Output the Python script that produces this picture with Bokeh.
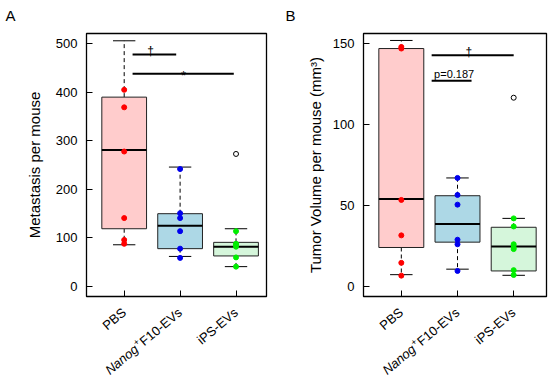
import math
from bokeh.plotting import figure
from bokeh.models import Label, FixedTicker, Range1d, ColumnDataSource
from bokeh.layouts import row, column
from bokeh.core.properties import value
from bokeh.embed import file_html
from bokeh.resources import INLINE

# ---------------- data ----------------
groups = ["PBS", "Nanog+F10-EVs", "iPS-EVs"]
nanog_parts = ["Nanog", "+", "F10-EVs"]
xpos = [1, 2, 3]
fills = ["#ffcccc", "#add8e6", "#d5f6db"]
pt_colors = ["#ff0000", "#0000ee", "#00ee00"]

# Panel A: metastasis per mouse
a_lo = [86, 62, 41]
a_q1 = [119, 78, 63]
a_med = [281, 125, 82]
a_q3 = [390, 150, 91]
a_hi = [506, 246, 119]
a_out_x = [3]
a_out_y = [273]
a_pts_pbs = [405, 369, 278, 141, 96, 88]
a_pts_nanog = [242, 151, 141, 114, 78, 59]
a_pts_ips = [114, 88, 86, 82, 60, 41]
a_sig_x0 = [1.15, 1.15]
a_sig_x1 = [1.93, 2.96]
a_sig_y = [478, 438]
a_sig_tx = [1.47, 2.06]
a_sig_text = ["\u2020", "*"]
a_yticks = [0, 100, 200, 300, 400, 500]

# Panel B: tumor volume per mouse
b_lo = [7.2, 10.6, 6.8]
b_q1 = [24, 27.3, 9.5]
b_med = [54, 38.5, 24.6]
b_q3 = [147, 56, 36.5]
b_hi = [152, 67, 42]
b_out_x = [3]
b_out_y = [116.6]
b_pts_pbs = [148, 147, 53.4, 31.5, 14.5, 6.6]
b_pts_nanog = [67, 56.5, 50.5, 28.8, 26, 9.5]
b_pts_ips = [42, 37, 26, 24, 23, 10, 7]
b_sig_x0 = [1.54, 1.54]
b_sig_x1 = [3.0, 2.25]
b_sig_y = [142.9, 127.1]
b_sig_tx = [2.2, 1.94]
b_sig_text = ["\u2020", "p=0.187"]
b_yticks = [0, 50, 100, 150]

FONT = "Liberation Sans"
TOTAL_H = 382
TOP, BOT = 33, 8
MAIN_H = 304
FH = MAIN_H - TOP - BOT
LAB_H = TOTAL_H - MAIN_H
ANG = 40.0  # label rotation in degrees


def panel(letter, width, bl, br, xr, yr, lo, q1, med, q3, hi, pts, out_x, out_y,
          sx0, sx1, sy, stx, stext, text_kind, yticks, ylabel, lab_standoff):
    p = figure(width=width, height=MAIN_H, x_range=Range1d(*xr), y_range=Range1d(*yr),
               output_backend="svg", toolbar_location=None,
               min_border_left=bl, min_border_right=br,
               min_border_top=TOP, min_border_bottom=BOT)
    p.background_fill_color = "white"
    p.border_fill_color = "white"
    p.outline_line_color = "black"
    p.outline_line_width = 1.3
    p.xgrid.visible = False
    p.ygrid.visible = False
    fw = width - bl - br
    ppx = fw / (xr[1] - xr[0])
    upp = (yr[1] - yr[0]) / FH

    for ax in (p.xaxis[0], p.yaxis[0]):
        ax.major_tick_in = 6
        ax.major_tick_out = 0
        ax.minor_tick_line_color = None
        ax.axis_line_color = "black"
        ax.major_tick_line_color = "black"
    p.xaxis.ticker = FixedTicker(ticks=xpos)
    p.xaxis.major_label_overrides = {x: "" for x in xpos}
    p.xaxis.major_label_text_font_size = "1px"
    p.xaxis.major_label_standoff = 0
    p.yaxis.ticker = FixedTicker(ticks=yticks)
    p.yaxis.major_label_text_font = FONT
    p.yaxis.major_label_text_font_size = "13px"
    p.yaxis.major_label_text_color = "black"
    p.yaxis.major_label_standoff = 9
    p.yaxis.axis_label = ylabel
    p.yaxis.axis_label_text_font = FONT
    p.yaxis.axis_label_text_font_size = "15px"
    p.yaxis.axis_label_text_font_style = "normal"
    p.yaxis.axis_label_text_color = "black"
    p.yaxis.axis_label_standoff = lab_standoff

    bw, cw = 0.4, 0.2
    left = [x - bw for x in xpos]
    right = [x + bw for x in xpos]
    cl = [x - cw for x in xpos]
    cr = [x + cw for x in xpos]
    # whiskers
    p.segment(xpos, q3, xpos, hi, line_color="black", line_width=1, line_dash="4 3")
    p.segment(xpos, q1, xpos, lo, line_color="black", line_width=1, line_dash="4 3")
    p.segment(cl, hi, cr, hi, line_color="black", line_width=1)
    p.segment(cl, lo, cr, lo, line_color="black", line_width=1)
    # boxes
    p.quad(left=left, right=right, bottom=q1, top=q3, fill_color=fills,
           line_color="#222222", line_width=1)
    p.segment(left, med, right, med, line_color="black", line_width=2)
    # outliers
    p.scatter(out_x, out_y, size=5, fill_color=None, line_color="black", line_width=1)
    # points
    px, py, pc = [], [], []
    for x, vals, c in zip(xpos, pts, pt_colors):
        for v in vals:
            px.append(x)
            py.append(v)
            pc.append(c)
    p.scatter(x="x", y="y", color="c", size=5,
              source=ColumnDataSource(dict(x=px, y=py, c=pc)))
    # significance bars
    p.segment(sx0, sy, sx1, sy, line_color="black", line_width=2)
    tys, sizes = [], []
    for y, t, k in zip(sy, stext, text_kind):
        if k == "dagger":
            tys.append(y + 3.5 * upp)
            sizes.append("12px")
        elif k == "star":
            tys.append(y - 1.5 * upp)
            sizes.append("13px")
        else:
            tys.append(y + 7 * upp)
            sizes.append("11px")
    p.text(x="x", y="y", text="t", text_font_size="s",
           source=ColumnDataSource(dict(x=stx, y=tys, t=stext, s=sizes)),
           text_font=value(FONT), text_align="center", text_baseline="alphabetic",
           text_color="black")

    # panel letter (in the top side panel)
    p.add_layout(Label(x=xr[0] - (bl - letter[1]) / ppx, y=yr[1] + (TOP - 6) * upp,
                       text=letter[0], text_font=FONT, text_font_size="15px",
                       text_align="left", text_baseline="top", text_color="black"),
                 "above")

    # ------- strip below the frame with rotated category labels -------
    lf = figure(width=width, height=LAB_H, x_range=p.x_range, y_range=Range1d(0, LAB_H),
                output_backend="svg", toolbar_location=None,
                x_axis_location=None, y_axis_location=None,
                min_border_left=bl, min_border_right=br,
                min_border_top=0, min_border_bottom=0)
    lf.outline_line_color = None
    lf.background_fill_color = "white"
    lf.border_fill_color = "white"
    lf.grid.grid_line_color = None
    ca = math.cos(math.radians(ANG))
    sa = math.sin(math.radians(ANG))
    fs = 13
    ay = LAB_H - (310 - 296 - BOT)   # anchor ~14 px below the frame's bottom
    wF = 3.89 * fs + 0.5
    wP = 0.584 * 9 + 0.8
    rise = 4.0
    lx, lyy, lt, ls, lst = [], [], [], [], []
    for i in (0, 2):
        lx.append(xpos[i]); lyy.append(ay); lt.append(groups[i]); ls.append(f"{fs}px"); lst.append("normal")
    # Nanog + F10-EVs pieces, laid along the rotated baseline
    offs = [(-(wF + wP) * ca, -(wF + wP) * sa),
            (-wF * ca - rise * sa, -wF * sa + rise * ca),
            (0.0, 0.0)]
    psz = [f"{fs}px", "9px", f"{fs}px"]
    pst = ["italic", "normal", "normal"]
    for part, (dx, dy), s_, st in zip(nanog_parts, offs, psz, pst):
        lx.append(xpos[1] + dx / ppx); lyy.append(ay + dy); lt.append(part); ls.append(s_); lst.append(st)
    src = ColumnDataSource(dict(x=lx, y=lyy, t=lt, s=ls, st=lst))
    lf.text(x="x", y="y", text="t", text_font_size="s", text_font_style="st", source=src,
            angle=math.radians(ANG), text_font=value(FONT), text_align="right",
            text_baseline="middle", text_color="black")
    return p, lf


pa, la = panel(("A", 5), 275, 86, 9, (0.326, 3.545), (-20.5, 521),
               a_lo, a_q1, a_med, a_q3, a_hi, [a_pts_pbs, a_pts_nanog, a_pts_ips],
               a_out_x, a_out_y, a_sig_x0, a_sig_x1, a_sig_y, a_sig_tx, a_sig_text,
               ["dagger", "star"], a_yticks, "Metastasis per mouse", 10)
pb, lb = panel(("B", 10), 275, 88, 4, (0.327, 3.584), (-6.3, 156.3),
               b_lo, b_q1, b_med, b_q3, b_hi, [b_pts_pbs, b_pts_nanog, b_pts_ips],
               b_out_x, b_out_y, b_sig_x0, b_sig_x1, b_sig_y, b_sig_tx, b_sig_text,
               ["dagger", "p"], b_yticks, "Tumor Volume per mouse (mm\u00b3)", 6)

layout = column(row(pa, pb), row(la, lb))
open("out.html", "w").write(file_html(layout, INLINE))
